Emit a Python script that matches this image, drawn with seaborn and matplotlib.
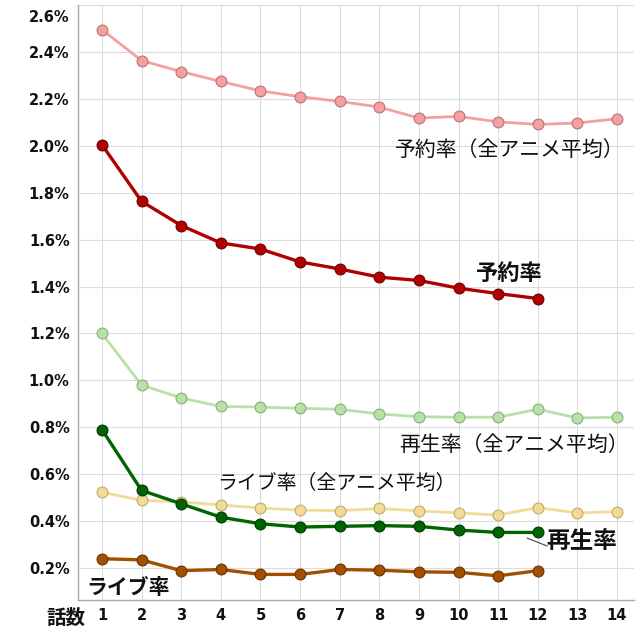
import matplotlib
matplotlib.use("Agg")
import matplotlib.pyplot as plt
import matplotlib.transforms as mtransforms
import seaborn as sns
import pandas as pd

episodes = list(range(1, 15))
episodes12 = list(range(1, 13))

reserve_avg = [2.495, 2.363, 2.316, 2.274, 2.234, 2.209, 2.189, 2.165, 2.118, 2.125, 2.102, 2.091, 2.097, 2.115]
reserve = [2.004, 1.763, 1.660, 1.586, 1.560, 1.505, 1.475, 1.440, 1.426, 1.393, 1.370, 1.349]
play_avg = [1.200, 0.980, 0.925, 0.889, 0.886, 0.881, 0.877, 0.857, 0.845, 0.843, 0.843, 0.877, 0.840, 0.843]
play = [0.790, 0.531, 0.474, 0.417, 0.389, 0.375, 0.378, 0.381, 0.378, 0.362, 0.352, 0.352]
live_avg = [0.523, 0.489, 0.482, 0.469, 0.456, 0.447, 0.445, 0.454, 0.444, 0.435, 0.426, 0.458, 0.435, 0.441]
live = [0.240, 0.235, 0.189, 0.194, 0.173, 0.173, 0.194, 0.191, 0.184, 0.182, 0.167, 0.189]

yticks = [0.2, 0.4, 0.6, 0.8, 1.0, 1.2, 1.4, 1.6, 1.8, 2.0, 2.2, 2.4, 2.6]
ytick_labels = ["%.1f%%" % v for v in yticks]

sns.set_theme(style="white")
plt.rcParams['font.family'] = ['Noto Sans CJK JP', 'DejaVu Sans']

fig = plt.figure(figsize=(6.4, 6.4), dpi=100)
ax = fig.add_axes([78/640, 1 - 600/640, (634-78)/640, (600-5)/640])

series = [
    (episodes, reserve_avg, "#f2a0a0", "#c07070", 2.0),
    (episodes, play_avg, "#b8e0a8", "#88b078", 2.0),
    (episodes, live_avg, "#f0dc98", "#c0aa68", 2.0),
    (episodes12, reserve, "#b00000", "#700000", 2.4),
    (episodes12, play, "#006400", "#003800", 2.4),
    (episodes12, live, "#a05000", "#703000", 2.4),
]
for xs, ys, col, edge, lw in series:
    df = pd.DataFrame({"x": xs, "y": ys})
    sns.lineplot(data=df, x="x", y="y", ax=ax, color=col, linewidth=lw,
                 marker="o", markersize=7.8, markeredgecolor=edge,
                 markeredgewidth=0.8, markerfacecolor=col)

ax.set_xlim(0.394, 14.43)
ax.set_ylim(0.064, 2.596)
ax.set_xticks(episodes)
ax.set_xticklabels([str(e) for e in episodes])
ax.set_yticks(yticks)
ax.set_yticklabels(ytick_labels)
ax.tick_params(axis="both", length=0, pad=6, labelsize=10.5,
               labelfontfamily="DejaVu Sans", labelcolor="#111111")
for lab in ax.get_xticklabels() + ax.get_yticklabels():
    lab.set_fontweight("bold")
ax.set_xlabel("")
ax.set_ylabel("")
ax.grid(True, color="#dcdcdc", linewidth=0.8)
for s in ["top", "right"]:
    ax.spines[s].set_visible(False)
for s in ["left", "bottom"]:
    ax.spines[s].set_color("#aaaaaa")
    ax.spines[s].set_linewidth(1.0)

# top tick label sits a little lower in the reference
top_label = ax.get_yticklabels()[-1]
top_label.set_transform(top_label.get_transform() +
                        mtransforms.ScaledTranslation(0, -11/100, fig.dpi_scale_trans))

ax.text(11.30, 1.983, "予約率（全アニメ平均）", fontsize=15, ha="center", va="center", color="#111111")
ax.text(11.28, 1.455, "予約率", fontsize=16, fontweight="bold", ha="center", va="center", color="#111111")
ax.text(11.40, 0.723, "再生率（全アニメ平均）", fontsize=15, ha="center", va="center", color="#111111")
ax.text(6.93, 0.562, "ライブ率（全アニメ平均）", fontsize=14.3, ha="center", va="center", color="#111111")
ax.text(13.12, 0.315, "再生率", fontsize=17, fontweight="bold", ha="center", va="center", color="#111111")
ax.text(1.66, 0.119, "ライブ率", fontsize=15, fontweight="bold", ha="center", va="center", color="#111111")
ax.plot([11.73, 12.24], [0.328, 0.294], color="#444444", linewidth=0.8)
fig.text(66/640, 1 - 618/640, "話数", fontsize=14, fontweight="bold", ha="center", va="center", color="#111111")

fig.savefig("out.png", dpi=100)
